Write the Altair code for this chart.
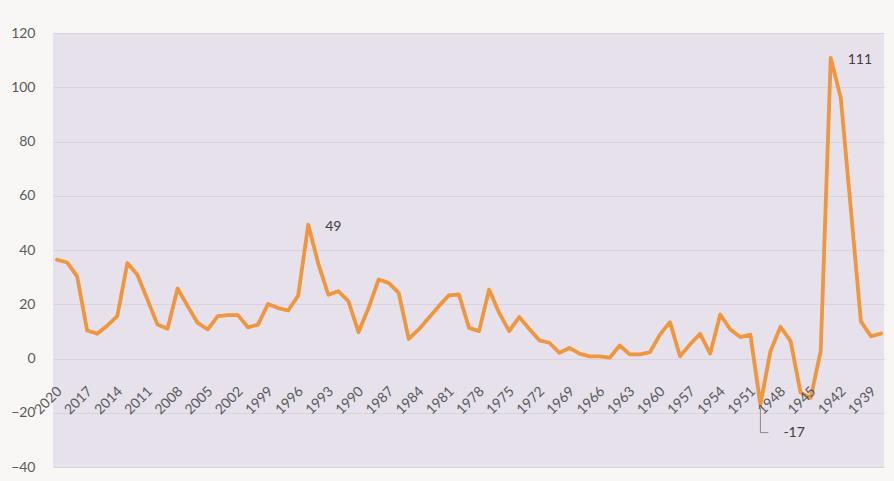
import altair as alt
import pandas as pd

years = list(range(2020, 1937, -1))
values = [
    36.4, 35.4, 30.3, 10.3, 9.1, 12.1, 15.6, 35.2, 30.9, 21.7,   # 2020-2011
    12.5, 11.0, 25.8, 19.3, 13.1, 10.7, 15.6, 16.0, 16.0, 11.5,  # 2010-2001
    12.5, 20.1, 18.6, 17.7, 23.2, 49.3, 35.0, 23.5, 24.8, 21.1,  # 2000-1991
    9.7, 18.6, 29.1, 27.9, 24.2, 7.2, 10.7, 15.0, 19.3, 23.3,    # 1990-1981
    23.6, 11.3, 10.1, 25.4, 16.8, 10.1, 15.3, 10.9, 6.7, 5.8,    # 1980-1971
    2.1, 3.9, 1.8, 0.8, 0.8, 0.3, 4.8, 1.5, 1.5, 2.3,            # 1970-1961
    8.8, 13.4, 0.8, 5.2, 9.1, 1.8, 16.2, 10.7, 7.9, 8.8,         # 1960-1951
    -17.0, 2.7, 11.7, 6.4, -12.6, -14.5, 2.7, 110.8, 96.0, 55.0,  # 1950-1941
    13.7, 8.2, 9.2,                                              # 1940-1938
]
assert len(years) == len(values)

tick_years = list(range(2020, 1938, -3))
tick_labels = [str(y) for y in tick_years]
y_ticks = [-40, -20, 0, 20, 40, 60, 80, 100, 120]

ann_years = [1995, 1943]
ann_values = [49.3, 110.8]
ann_text = ["49", "111"]

low_year = [1950]
low_value = [-17.0]
low_text = ["-17"]

df = pd.DataFrame({"year": years, "value": values})
ann = pd.DataFrame({"year": ann_years, "value": ann_values, "label": ann_text})
low = pd.DataFrame({"year": low_year, "value": low_value, "label": low_text})
ticks_df = pd.DataFrame({"year": tick_years, "label": tick_labels, "zero": [0] * len(tick_years)})

font = "Lato"
xscale = alt.Scale(domain=[2020.4, 1937.7], nice=False, zero=False)
yscale = alt.Scale(domain=[-40, 120], nice=False)

line = alt.Chart(df).mark_line(
    color="#f0963e", strokeWidth=3.8, strokeJoin="round", strokeCap="round"
).encode(
    x=alt.X("year:Q", scale=xscale, axis=None),
    y=alt.Y(
        "value:Q",
        scale=yscale,
        axis=alt.Axis(
            values=y_ticks,
            labelFontSize=14,
            labelColor="#5a5a5a",
            labelFont=font,
            labelPadding=18,
            ticks=False,
            domain=False,
            gridColor="#d8d3dd",
            gridWidth=1,
            title=None,
        ),
    ),
)

xlabels = alt.Chart(ticks_df).mark_text(
    angle=315, align="right", baseline="middle", fontSize=14, font=font,
    color="#5a5a5a", yOffset=31, xOffset=3
).encode(
    x=alt.X("year:Q", scale=xscale),
    y=alt.Y("zero:Q", scale=yscale),
    text="label:N",
)

labels = alt.Chart(ann).mark_text(
    align="left", baseline="middle", dx=17, dy=2, fontSize=14,
    font=font, color="#404040"
).encode(x=alt.X("year:Q", scale=xscale), y=alt.Y("value:Q", scale=yscale), text="label:N")

low_label = alt.Chart(low).mark_text(
    align="left", baseline="middle", dx=23, dy=28, fontSize=14,
    font=font, color="#404040"
).encode(x=alt.X("year:Q", scale=xscale), y=alt.Y("value:Q", scale=yscale), text="label:N")

leader_v = alt.Chart(low).mark_rule(
    color="#8a8a8a", strokeWidth=1, yOffset=3, y2Offset=28
).encode(
    x=alt.X("year:Q", scale=xscale),
    y=alt.Y("value:Q", scale=yscale),
    y2="value:Q",
)

leader_h = alt.Chart(low).mark_rule(
    color="#8a8a8a", strokeWidth=1, yOffset=28, x2Offset=8
).encode(
    x=alt.X("year:Q", scale=xscale),
    x2="year:Q",
    y=alt.Y("value:Q", scale=yscale),
)

chart = alt.layer(line, xlabels, leader_v, leader_h, labels, low_label).properties(
    width=831,
    height=434,
    autosize=alt.AutoSizeParams(type="none"),
    padding={"left": 53, "top": 33, "right": 10, "bottom": 14},
    background="#f8f7f5",
).configure_view(
    fill="#e6e1ea", stroke=None
)

chart.save("out.html", embed_options={"renderer": "svg", "actions": False})
